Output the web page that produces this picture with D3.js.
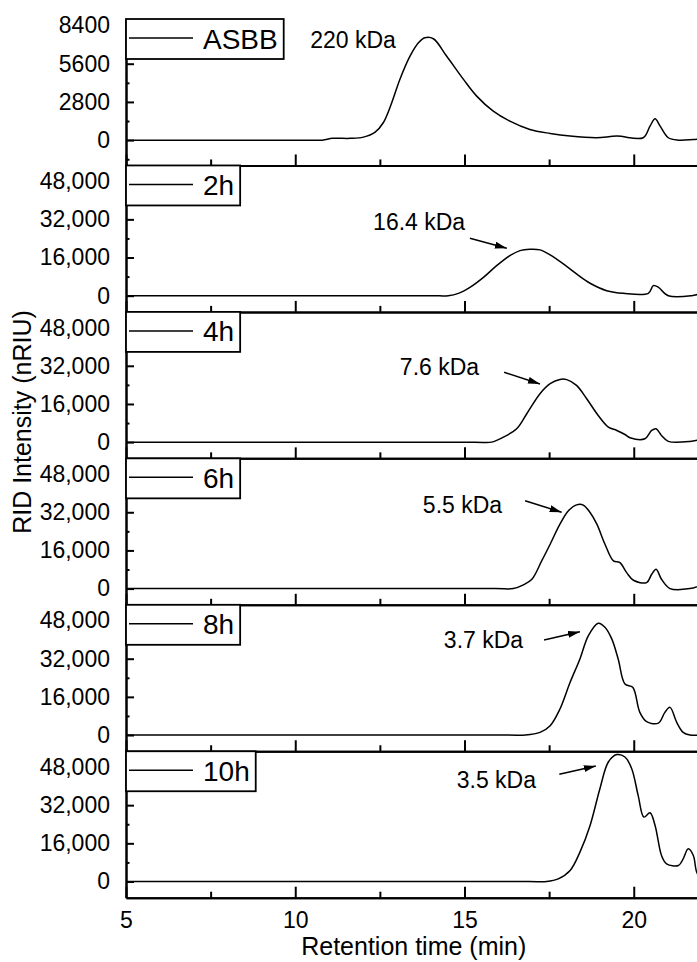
<!DOCTYPE html>
<html>
<head>
<meta charset="utf-8">
<script src="https://cdn.jsdelivr.net/npm/d3@7"></script>
<style>
body{margin:0;background:#fff;}
svg{display:block;font-family:"Liberation Sans",Arial,sans-serif;}
</style>
</head>
<body>
<div id="chart"></div>
<script>
// samples, one panel each
var sampleNames = ["ASBB", "2h", "4h", "6h", "8h", "10h"];

// retention time (min) / RID intensity (nRIU)
var asbbTime = [5, 10.3, 10.8, 11.1, 11.62, 12.01, 12.36, 12.60, 12.85, 13.09, 13.39, 13.64, 13.83, 14.08, 14.47, 14.97, 15.36, 15.85, 16.34, 16.93, 17.53, 18.12, 18.90, 19.50, 20.28, 20.48, 20.63, 20.78, 21.02, 21.32, 21.76, 22];
var asbbRid  = [0, 0, 0, 130, 130, 220, 590, 1275, 2740, 4450, 6160, 7140, 7500, 7430, 6160, 4450, 3225, 2125, 1390, 785, 490, 295, 175, 295, 175, 1025, 1570, 1025, 175, 0, 50, 100];

var h2Time = [5, 14.0, 14.52, 14.82, 15.16, 15.56, 15.95, 16.34, 16.64, 16.93, 17.23, 17.53, 17.92, 18.31, 18.71, 19.20, 19.69, 20.43, 20.58, 20.73, 21.02, 21.71, 22];
var h2Rid  = [0, 0, 0, 970, 3500, 7700, 12600, 16800, 18900, 19450, 19200, 17100, 13300, 9100, 5200, 2100, 970, 970, 4200, 3500, 0, 0, 970];

var h4Time = [5, 15.3, 15.80, 16.15, 16.54, 16.84, 17.23, 17.53, 17.82, 18.02, 18.31, 18.61, 18.95, 19.25, 19.50, 19.74, 19.89, 20.33, 20.53, 20.66, 20.82, 21.02, 21.66, 22];
var h4Rid  = [0, 0, 0, 2100, 5600, 11900, 20300, 24500, 26300, 26200, 23800, 18200, 11200, 6300, 4900, 3200, 1850, 1400, 4900, 5600, 2800, 300, 300, 1300];

var h6Time = [5, 15.9, 16.44, 16.74, 16.99, 17.28, 17.53, 17.82, 18.07, 18.31, 18.51, 18.71, 18.91, 19.15, 19.40, 19.59, 19.79, 19.99, 20.38, 20.53, 20.66, 20.82, 21.07, 21.66, 22];
var h6Rid  = [0, 0, 0, 1550, 3900, 11600, 18600, 27000, 32600, 35100, 35000, 31900, 27000, 18600, 11600, 10900, 6700, 3500, 2500, 6000, 8100, 3900, 0, 0, 1500];

var h8Time = [5, 16.3, 16.79, 17.23, 17.53, 17.82, 18.12, 18.41, 18.66, 18.95, 19.15, 19.35, 19.54, 19.74, 19.97, 20.18, 20.38, 20.73, 20.92, 21.07, 21.27, 21.46, 21.66, 22];
var h8Rid  = [0, 0, 0, 1100, 3900, 10900, 22100, 31900, 41700, 46900, 45200, 40300, 31900, 21400, 20000, 9500, 5600, 5000, 9500, 11600, 5300, 1100, 0, 0];

var h10Time = [5, 16.9, 17.43, 17.77, 18.12, 18.41, 18.71, 19.00, 19.25, 19.50, 19.74, 19.94, 20.13, 20.30, 20.48, 20.63, 20.82, 20.97, 21.32, 21.46, 21.61, 21.76, 21.86, 22];
var h10Rid  = [0, 0, 0, 1100, 4600, 12300, 23500, 38900, 50100, 53200, 52200, 47300, 36100, 27000, 28800, 23500, 10900, 7400, 6700, 9500, 13700, 10900, 3900, 1000];

// axes
var timeDomain = [5, 22];
var timeTicks = [5, 10, 15, 20];
var timeMinor = [7.5, 12.5, 17.5];
var asbbDomain = [-1855, 8876];
var asbbTicks = [0, 2800, 5600, 8400];
var asbbMinor = [-1400, 1400, 4200, 7000];
var hourDomain = [-6800, 54600];
var hourTicks = [0, 16000, 32000, 48000];
var hourMinor = [8000, 24000, 40000];

// molecular weight notes: label position and arrow [time, intensity]
var noteLabels = ["220 kDa", "16.4 kDa", "7.6 kDa", "5.5 kDa", "3.7 kDa", "3.5 kDa"];
var noteAt = [[10.44, 6730], [12.30, 27540], [13.09, 28150], [13.77, 31820], [14.39, 36370], [14.77, 39070]];
var arrowFrom = [null, [15.16, 24060], [16.17, 29280], [16.79, 36850], [17.35, 39850], [17.80, 44940]];
var arrowTo = [null, [16.25, 19870], [17.23, 24380], [17.87, 31990], [18.41, 43330], [18.88, 48420]];

var series = [
	{time: asbbTime, rid: asbbRid},
	{time: h2Time, rid: h2Rid},
	{time: h4Time, rid: h4Rid},
	{time: h6Time, rid: h6Rid},
	{time: h8Time, rid: h8Rid},
	{time: h10Time, rid: h10Rid}
];

var width = 697, height = 962;
var left = 126, top0 = 19, panelH = 146.45;
var pxPerMin = 33.85;

var svg = d3.select("#chart").append("svg")
	.attr("width", width)
	.attr("height", height);

svg.append("defs").append("marker")
		.attr("id", "head")
		.attr("markerUnits", "userSpaceOnUse")
		.attr("markerWidth", 13)
		.attr("markerHeight", 7)
		.attr("refX", 12)
		.attr("refY", 3.5)
		.attr("orient", "auto")
	.append("path")
		.attr("d", "M0,0L12,3.5L0,7Z")
		.attr("fill", "#000");

var x = d3.scaleLinear()
	.domain(timeDomain)
	.range([left, left + (timeDomain[1] - timeDomain[0]) * pxPerMin]);

function styleAxis(g, size){
	g.selectAll("path.domain").attr("stroke-width", 2).attr("stroke", "#000");
	g.selectAll(".tick line").attr("stroke-width", 2).attr("stroke", "#000");
	g.selectAll("text")
		.attr("font-family", "'Liberation Sans', Arial, sans-serif")
		.attr("font-size", size)
		.attr("fill", "#000");
	g.attr("font-family", null).attr("font-size", null);
}

series.forEach(function(s, i){
	var top = top0 + i * panelH;
	var bottom = top + panelH;
	var first = i === 0;
	var last = i === series.length - 1;

	var y = d3.scaleLinear()
		.domain(first ? asbbDomain : hourDomain)
		.range([bottom, top]);

	var panel = svg.append("g").attr("class", "panel panel-" + i);

	var pts = s.time.map(function(t, k){ return [t, s.rid[k]]; });
	var line = d3.line()
		.x(function(d){ return x(d[0]); })
		.y(function(d){ return y(d[1]); })
		.curve(d3.curveCatmullRom.alpha(0.5));

	panel.append("path")
		.datum(pts)
		.attr("d", line)
		.attr("fill", "none")
		.attr("stroke", "#000")
		.attr("stroke-width", 1.5);

	// bottom axis, ticks pointing in
	var xMinor = panel.append("g")
		.attr("transform", "translate(0," + bottom + ")")
		.call(d3.axisBottom(x).tickValues(timeMinor).tickSize(-6).tickSizeOuter(0).tickFormat(""));
	styleAxis(xMinor, 23);

	var xMajor = panel.append("g")
		.attr("transform", "translate(0," + bottom + ")")
		.call(d3.axisBottom(x).tickValues(timeTicks).tickSize(-11).tickSizeOuter(0).tickPadding(14)
			.tickFormat(last ? d3.format("d") : ""));
	styleAxis(xMajor, 23);

	// left axis
	var yMinor = panel.append("g")
		.attr("transform", "translate(" + left + ",0)")
		.call(d3.axisLeft(y).tickValues(first ? asbbMinor : hourMinor).tickSize(-3.5).tickSizeOuter(0).tickFormat(""));
	styleAxis(yMinor, 23);

	var yMajor = panel.append("g")
		.attr("transform", "translate(" + left + ",0)")
		.call(d3.axisLeft(y).tickValues(first ? asbbTicks : hourTicks).tickSize(-8).tickSizeOuter(0).tickPadding(16)
			.tickFormat(first ? d3.format("d") : d3.format(",")));
	styleAxis(yMajor, 23);

	// note and arrow
	panel.append("text")
		.attr("x", x(noteAt[i][0]))
		.attr("y", y(noteAt[i][1]))
		.attr("font-size", 23)
		.text(noteLabels[i]);

	if(arrowFrom[i]){
		panel.append("line")
			.attr("x1", x(arrowFrom[i][0]))
			.attr("y1", y(arrowFrom[i][1]))
			.attr("x2", x(arrowTo[i][0]))
			.attr("y2", y(arrowTo[i][1]))
			.attr("stroke", "#000")
			.attr("stroke-width", 1.5)
			.attr("marker-end", "url(#head)");
	}

	// legend box
	var legend = panel.append("g").attr("transform", "translate(" + left + "," + top + ")");
	var box = legend.append("rect")
		.attr("height", 40)
		.attr("fill", "#fff")
		.attr("stroke", "#000")
		.attr("stroke-width", 1.8);
	legend.append("line")
		.attr("x1", 3).attr("x2", 67)
		.attr("y1", 19).attr("y2", 19)
		.attr("stroke", "#000")
		.attr("stroke-width", 1.5);
	var label = legend.append("text")
		.attr("x", 77)
		.attr("y", 29.5)
		.attr("font-size", 28)
		.text(sampleNames[i]);
	box.attr("width", 77 + label.node().getComputedTextLength() + 6);
});

svg.append("text")
	.attr("x", (x.range()[0] + x.range()[1]) / 2)
	.attr("y", 955)
	.attr("text-anchor", "middle")
	.attr("font-size", 25)
	.text("Retention time (min)");

svg.append("text")
	.attr("transform", "translate(31,422) rotate(-90)")
	.attr("text-anchor", "middle")
	.attr("font-size", 25)
	.text("RID Intensity (nRIU)");
</script>
</body>
</html>
